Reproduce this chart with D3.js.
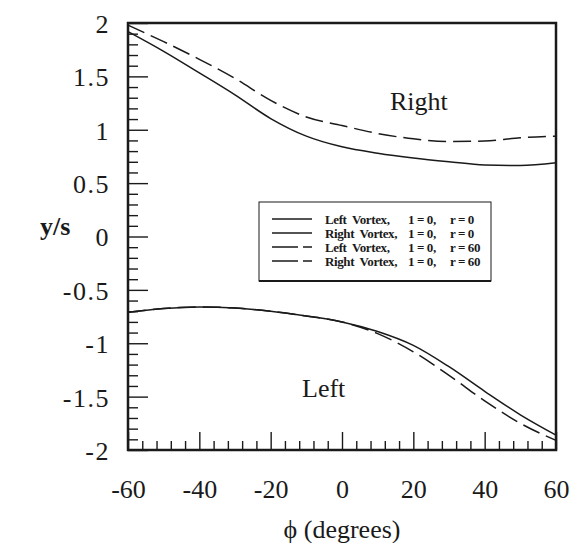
<!DOCTYPE html>
<html><head><meta charset="utf-8">
<script src="https://cdn.jsdelivr.net/npm/d3@7"></script>
<style>body{margin:0;background:#fff}svg{display:block}</style></head>
<body><svg id="c" width="572" height="543"></svg>
<script>
const phi = [-60,-50,-40,-30,-20,-10,0,10,20,30,40,50,60];
const rightR0  = [1.92,1.735,1.533,1.327,1.105,0.94,0.84,0.78,0.735,0.70,0.67,0.665,0.69];
const rightR60 = [1.98,1.825,1.66,1.48,1.275,1.12,1.04,0.965,0.915,0.89,0.895,0.925,0.94];
const leftR0   = [-0.71,-0.675,-0.66,-0.67,-0.70,-0.745,-0.80,-0.89,-1.02,-1.22,-1.45,-1.67,-1.86];
const leftR60  = [-0.71,-0.675,-0.66,-0.67,-0.70,-0.745,-0.80,-0.91,-1.08,-1.30,-1.54,-1.75,-1.91];
const xTicks = [-60,-40,-20,0,20,40,60];
const yTicks = [2,1.5,1,0.5,0,-0.5,-1,-1.5,-2];
const legendNames = ["Left  Vortex,","Right  Vortex,","Left  Vortex,","Right  Vortex,"];
const legendL = ["1 = 0,","1 = 0,","1 = 0,","1 = 0,"];
const legendR = ["r = 0","r = 0","r = 60","r = 60"];
const legendDashed = [false,false,true,true];

const svg = d3.select("#c");
const FONT = "'Liberation Serif','Times New Roman',serif";
const ink = "#1a1a1a";
const x = d3.scaleLinear([-60,60],[128,556]);
const y = d3.scaleLinear([-2,2],[450,23]);

const xMinor = d3.range(-56,60,4).filter(v=>v%20!==0);
const yMinor = d3.range(-19,20).map(v=>v/10).filter(v=>Math.abs((v*10)%5)>1e-6);

const gxm = svg.append("g").attr("transform",`translate(0,${y(-2)})`)
  .call(d3.axisBottom(x).tickValues(xMinor).tickSizeInner(-9).tickSizeOuter(0).tickFormat(""));
const gym = svg.append("g").attr("transform",`translate(${x(-60)},0)`)
  .call(d3.axisLeft(y).tickValues(yMinor).tickSizeInner(-10).tickSizeOuter(0).tickFormat(""));
const gx = svg.append("g").attr("transform",`translate(0,${y(-2)})`)
  .call(d3.axisBottom(x).tickValues(xTicks).tickSizeInner(-18).tickSizeOuter(0).tickPadding(29.5).tickFormat(d=>String(d)));
const gy = svg.append("g").attr("transform",`translate(${x(-60)},0)`)
  .call(d3.axisLeft(y).tickValues(yTicks).tickSizeInner(-20).tickSizeOuter(0).tickPadding(18).tickFormat(d=>String(d)));
[gxm,gym,gx,gy].forEach(g=>{
  g.select(".domain").remove();
  g.selectAll(".tick line").attr("stroke",ink).attr("stroke-width",1.4);
  g.selectAll("text").attr("font-family",FONT).attr("font-size",26).attr("fill",ink);
});
gy.selectAll("text").attr("dy","0.36em").attr("letter-spacing",1.5);

svg.append("rect").attr("x",x(-60)).attr("y",y(2)).attr("width",x(60)-x(-60)).attr("height",y(-2)-y(2))
  .attr("fill","none").attr("stroke",ink).attr("stroke-width",2.5);

const line = d3.line().x(d=>x(d[0])).y(d=>y(d[1])).curve(d3.curveMonotoneX);
const series = [
  {v:rightR0, dash:null},{v:leftR0, dash:null},
  {v:rightR60, dash:"18,7"},{v:leftR60, dash:"18,7"}
];
series.forEach(s=>{
  svg.append("path").datum(phi.map((p,i)=>[p,s.v[i]])).attr("d",line)
    .attr("fill","none").attr("stroke",ink).attr("stroke-width",1.5)
    .attr("stroke-dasharray",s.dash);
});

const lg = svg.append("g");
lg.append("rect").attr("x",259).attr("y",202).attr("width",232).attr("height",79)
  .attr("fill","#fff").attr("stroke",ink).attr("stroke-width",1);
lg.append("line").attr("x1",259).attr("x2",491).attr("y1",281).attr("y2",281).attr("stroke",ink).attr("stroke-width",2.2);
const rowY = [219,233,247,261];
rowY.forEach((ry,i)=>{
  lg.append("line").attr("x1",272).attr("x2",312).attr("y1",ry).attr("y2",ry)
    .attr("stroke",ink).attr("stroke-width",1.3).attr("stroke-dasharray",legendDashed[i]?"26,5,9":null);
  const t = (tx,s)=>lg.append("text").attr("x",tx).attr("y",ry+4.5).text(s)
    .attr("font-family",FONT).attr("font-size",13).attr("font-weight","bold").attr("fill",ink)
    .attr("letter-spacing",-0.4).style("white-space","pre");
  t(325,legendNames[i]); t(408,legendL[i]); t(450,legendR[i]);
});

const txt = (tx,ty,s,anchor)=>svg.append("text").attr("x",tx).attr("y",ty).text(s)
  .attr("font-family",FONT).attr("font-size",26).attr("fill",ink).attr("text-anchor",anchor||"start");
txt(390,110,"Right");
txt(302,397,"Left");
txt(342,538,"\u03d5 (degrees)","middle");
txt(40,235,"y/s").attr("font-weight","bold");
</script></body></html>
